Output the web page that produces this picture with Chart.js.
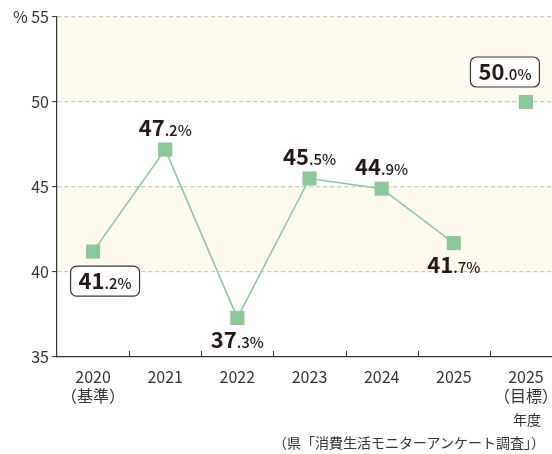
<!DOCTYPE html>
<html>
<head>
<meta charset="utf-8">
<script src="https://cdn.jsdelivr.net/npm/chart.js@4"></script>
<style>
    html, body { margin: 0; padding: 0; background: #fff; }
    #wrap { position: relative; width: 552px; height: 454px; overflow: hidden; }
    #c { position: absolute; left: 0; top: 0; }
    .note { position: absolute; right: 7px; font: 14px "Noto Sans CJK JP", sans-serif; color: #333; white-space: nowrap; }
</style>
</head>
<body>
<div id="wrap">
    <canvas id="c" width="572" height="454"></canvas>
    <div class="note" style="top:409px; right:11px">年度</div>
    <div class="note" style="top:432px">（県「消費生活モニターアンケート調査」）</div>
</div>
<script>
// Chart data
const categories = [['2020', '（基準）'], '2021', '2022', '2023', '2024', '2025', ['2025', '（目標）']];
const actualValues = [41.2, 47.2, 37.3, 45.5, 44.9, 41.7, null];
const targetValues = [null, null, null, null, null, null, 50.0];
const yTicks = [35, 40, 45, 50, 55];
const bands = [[40, 45], [50, 55]];

// Where each value label sits relative to its point
const labelStyles = [
    { pos: 'boxBelow', dx: 12 },
    { pos: 'above', dx: 0 },
    { pos: 'below', dx: 0 },
    { pos: 'above', dx: 0 },
    { pos: 'above', dx: 0 },
    { pos: 'below', dx: 0 },
    { pos: 'boxAbove', dx: -21 }
];

const FONT = '"Noto Sans CJK JP", "Noto Sans", sans-serif';
const GREEN = '#8cc79a';
const TEXT = '#231815';

// Cream bands behind the plot
const bandPlugin = {
    id: 'bands',
    beforeDraw(chart) {
        const { ctx, chartArea } = chart;
        const y = chart.scales.y;
        ctx.save();
        ctx.fillStyle = '#fefbee';
        bands.forEach(([lo, hi]) => {
            const top = y.getPixelForValue(hi);
            const bottom = y.getPixelForValue(lo);
            ctx.fillRect(chartArea.left, top, chartArea.right - chartArea.left, bottom - top);
        });
        ctx.restore();
    }
};

// Small inward tick marks between categories on the x axis
const xTickPlugin = {
    id: 'xTicks',
    afterDraw(chart) {
        const { ctx, chartArea } = chart;
        const x = chart.scales.x;
        ctx.save();
        ctx.strokeStyle = '#333';
        ctx.lineWidth = 1;
        const marks = [];
        for (let i = 1; i < categories.length; i++) {
            marks.push((x.getPixelForValue(i - 1) + x.getPixelForValue(i)) / 2);
        }
        marks.push(chartArea.right - 0.5);
        marks.forEach(px => {
            ctx.beginPath();
            ctx.moveTo(Math.round(px) + 0.5, chartArea.bottom);
            ctx.lineTo(Math.round(px) + 0.5, chartArea.bottom - 6);
            ctx.stroke();
        });
        ctx.restore();
    }
};

function roundRect(ctx, x, y, w, h, r) {
    ctx.beginPath();
    ctx.moveTo(x + r, y);
    ctx.arcTo(x + w, y, x + w, y + h, r);
    ctx.arcTo(x + w, y + h, x, y + h, r);
    ctx.arcTo(x, y + h, x, y, r);
    ctx.arcTo(x, y, x + w, y, r);
    ctx.closePath();
}

// Value labels: big integer part, small decimal part
const valueLabelPlugin = {
    id: 'valueLabels',
    afterDatasetsDraw(chart) {
        const { ctx } = chart;
        ctx.save();
        chart.data.datasets.forEach((ds, di) => {
            const meta = chart.getDatasetMeta(di);
            meta.data.forEach((pt, i) => {
                const v = ds.data[i];
                if (v === null || v === undefined) return;
                const intPart = String(Math.floor(v));
                const decPart = '.' + v.toFixed(1).split('.')[1] + '%';
                const bigFont = 'bold 22px ' + FONT;
                const smallFont = '500 15px ' + FONT;
                ctx.font = bigFont;
                const w1 = ctx.measureText(intPart).width;
                ctx.font = smallFont;
                const w2 = ctx.measureText(decPart).width;
                const total = w1 + w2;
                const style = labelStyles[i];
                const cx = pt.x + style.dx;
                let base;
                if (style.pos === 'above') base = pt.y - 14;
                else if (style.pos === 'below') base = pt.y + 30;
                else {
                    const boxCy = style.pos === 'boxBelow' ? pt.y + 29.5 : pt.y - 30;
                    const bw = 69, bh = 30;
                    roundRect(ctx, cx - bw / 2, boxCy - bh / 2, bw, bh, 6);
                    ctx.fillStyle = '#fff';
                    ctx.fill();
                    ctx.lineWidth = 1.2;
                    ctx.strokeStyle = '#333';
                    ctx.stroke();
                    base = boxCy + 8;
                }
                ctx.fillStyle = TEXT;
                ctx.textBaseline = 'alphabetic';
                ctx.textAlign = 'left';
                ctx.font = bigFont;
                ctx.fillText(intPart, cx - total / 2, base);
                ctx.font = smallFont;
                ctx.fillText(decPart, cx - total / 2 + w1, base);
            });
        });
        ctx.restore();
    }
};

const pointStyle = {
    pointStyle: 'rect',
    pointRadius: 10,
    pointHoverRadius: 10,
    pointBackgroundColor: GREEN,
    pointBorderWidth: 0,
    borderColor: GREEN,
    borderWidth: 1.5
};

new Chart(document.getElementById('c').getContext('2d'), {
    type: 'line',
    data: {
        labels: categories,
        datasets: [
            Object.assign({ label: '実績', data: actualValues, spanGaps: false }, pointStyle),
            Object.assign({ label: '目標', data: targetValues, showLine: false }, pointStyle)
        ]
    },
    options: {
        responsive: false,
        animation: false,
        devicePixelRatio: 1,
        layout: { padding: { top: 17, right: 1, left: 0, bottom: 0 } },
        plugins: {
            legend: { display: false },
            tooltip: { enabled: false }
        },
        scales: {
            x: {
                type: 'category',
                offset: true,
                grid: { offset: true, drawOnChartArea: false, drawTicks: false },
                border: { color: '#333', width: 1.2 },
                ticks: {
                    color: '#333',
                    font: { family: FONT, size: 16 },
                    padding: 10,
                    maxRotation: 0,
                    autoSkip: false
                },
                afterFit(scale) { scale.height = 97; }
            },
            y: {
                min: 35,
                max: 55,
                afterBuildTicks(scale) { scale.ticks = yTicks.map(v => ({ value: v })); },
                ticks: {
                    color: '#333',
                    font: { family: FONT, size: 16 },
                    padding: 3,
                    callback: v => (v === 55 ? '% 55' : v)
                },
                grid: {
                    color: ctx => (ctx.tick && ctx.tick.value === 35 ? 'rgba(0,0,0,0)' : '#c9c9c9'),
                    lineWidth: 1.2,
                    tickColor: '#333',
                    tickLength: 5,
                    tickWidth: 1,
                    tickBorderDash: []
                },
                border: { color: '#333', width: 1.2, dash: [4, 3] },
                afterFit(scale) { scale.width = 57; }
            }
        }
    },
    plugins: [bandPlugin, xTickPlugin, valueLabelPlugin]
});
</script>
</body>
</html>
